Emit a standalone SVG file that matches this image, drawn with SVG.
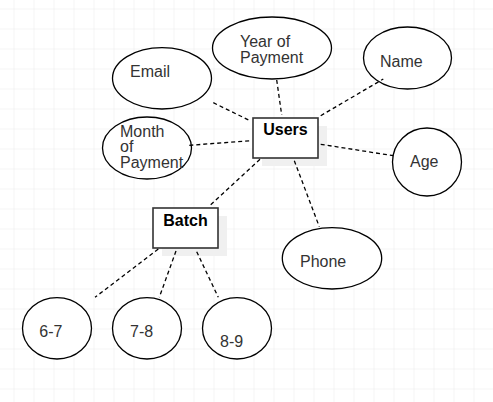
<svg xmlns="http://www.w3.org/2000/svg" width="493" height="402" viewBox="0 0 493 402">
<defs>
<pattern id="grid" x="13.5" y="8.5" width="20" height="20" patternUnits="userSpaceOnUse">
<path d="M0 0H20M0 0V20" fill="none" stroke="#ececec" stroke-width="1.2"/>
</pattern>
</defs>
<style>
.ent{fill:#fff;stroke:#333;stroke-width:1.6}
.shadow{fill:#f0f0f0}
.attr{fill:#fff;stroke:#000;stroke-width:1.3}
.lbl{font-family:"Liberation Sans",Arial,sans-serif;font-size:16px;fill:#333}
.bold{font-family:"Liberation Sans",Arial,sans-serif;font-size:16px;font-weight:bold;fill:#000}
.conn{stroke:#000;stroke-width:1.3;stroke-dasharray:4 3;fill:none}
</style>
<rect width="493" height="402" fill="#fff"/>
<rect width="493" height="402" fill="url(#grid)"/>
<g id="users">
<rect class="shadow" x="262" y="126" width="65" height="40"/>
<rect class="ent" x="253" y="118" width="65" height="40"/>
<text class="bold" x="285.5" y="135" text-anchor="middle">Users</text>
</g>
<g id="batch">
<rect class="shadow" x="162" y="216" width="65" height="40"/>
<rect class="ent" x="153" y="208" width="65" height="40"/>
<text class="bold" x="185.5" y="226" text-anchor="middle">Batch</text>
</g>
<g id="year">
<ellipse class="attr" cx="272" cy="48" rx="59.5" ry="31"/>
<text class="lbl" x="240" y="46.7">Year of</text>
<text class="lbl" x="240" y="63.3">Payment</text>
</g>
<g id="email">
<ellipse class="attr" cx="162" cy="78.3" rx="49.5" ry="30.7"/>
<text class="lbl" x="130" y="76.7">Email</text>
</g>
<g id="month">
<ellipse class="attr" cx="147" cy="148" rx="44.5" ry="31"/>
<text class="lbl" x="120" y="136.7">Month</text>
<text class="lbl" x="120" y="152.3">of</text>
<text class="lbl" x="120" y="167.7">Payment</text>
</g>
<g id="name">
<ellipse class="attr" cx="407.5" cy="58" rx="44" ry="31"/>
<text class="lbl" x="380" y="66.7">Name</text>
</g>
<g id="age">
<ellipse class="attr" cx="427" cy="162" rx="34.5" ry="34"/>
<text class="lbl" x="410" y="166.7">Age</text>
</g>
<g id="phone">
<ellipse class="attr" cx="332" cy="258.3" rx="49.7" ry="30.7"/>
<text class="lbl" x="300" y="266.7">Phone</text>
</g>
<g id="b67">
<ellipse class="attr" cx="57" cy="328.3" rx="34.5" ry="30.7"/>
<text class="lbl" x="39.3" y="336.7">6-7</text>
</g>
<g id="b78">
<ellipse class="attr" cx="147" cy="328.3" rx="34.5" ry="30.7"/>
<text class="lbl" x="130" y="336.7">7-8</text>
</g>
<g id="b89">
<ellipse class="attr" cx="237" cy="328.3" rx="34.5" ry="30.7"/>
<text class="lbl" x="220" y="346.7">8-9</text>
</g>
<g id="connectors">
<line class="conn" x1="213.3" y1="102.7" x2="250" y2="120.7"/>
<line class="conn" x1="276.7" y1="80" x2="281.7" y2="115"/>
<line class="conn" x1="189.3" y1="145.3" x2="251.7" y2="140.7"/>
<line class="conn" x1="320.7" y1="115.7" x2="383.3" y2="79"/>
<line class="conn" x1="320.7" y1="144.3" x2="393.3" y2="155.7"/>
<line class="conn" x1="294.3" y1="160.7" x2="319.3" y2="226.7"/>
<line class="conn" x1="260" y1="159.3" x2="209.3" y2="206"/>
<line class="conn" x1="158.3" y1="249" x2="95" y2="297.3"/>
<line class="conn" x1="176" y1="251" x2="159.3" y2="297.3"/>
<line class="conn" x1="196.7" y1="251.7" x2="218.3" y2="297.3"/>
</g>
</svg>
